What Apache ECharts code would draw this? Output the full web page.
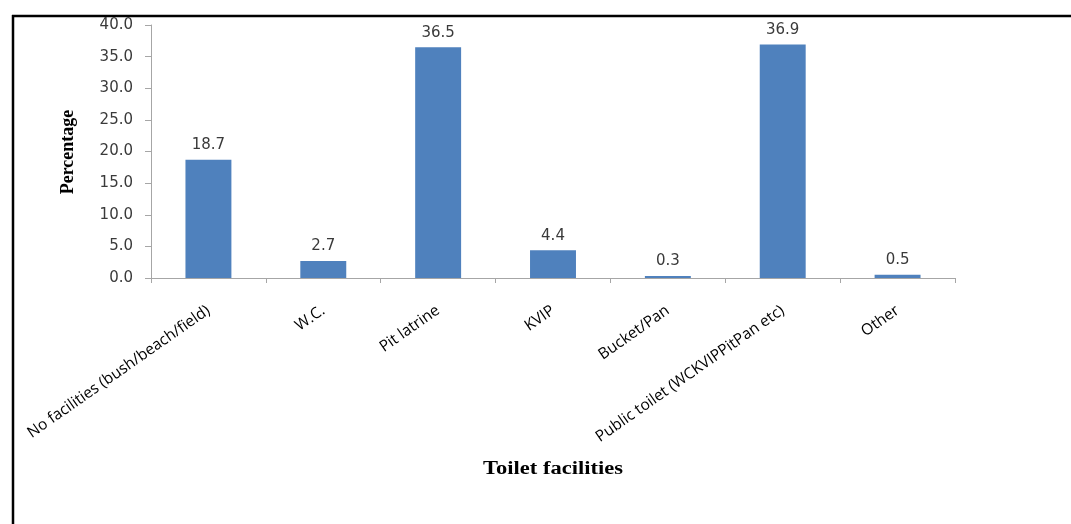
<!DOCTYPE html>
<html>
<head>
<meta charset="utf-8">
<script src="https://cdn.jsdelivr.net/npm/echarts@6/dist/echarts.min.js"></script>
<style>
  html, body { margin: 0; padding: 0; background: #fff; }
  #chart { width: 1071px; height: 524px; }
</style>
</head>
<body>
<div id="chart"></div>
<script>
// Toilet facilities used by households (percent)
const categories = [
  'No facilities (bush/beach/field)',
  'W.C.',
  'Pit latrine',
  'KVIP',
  'Bucket/Pan',
  'Public toilet (WCKVIPPitPan etc)',
  'Other'
];
const percentages = [18.7, 2.7, 36.5, 4.4, 0.3, 36.9, 0.5];
const yTicks = { min: 0, max: 40, interval: 5 };

const numFont = '"DejaVu Sans", Verdana, sans-serif';
const catFont = '"Open Sans", "Liberation Sans", sans-serif';
const serif = '"Liberation Serif", "Times New Roman", serif';

const chart = echarts.init(document.getElementById('chart'), null, { renderer: 'canvas' });
chart.setOption({
  animation: false,
  backgroundColor: '#ffffff',
  grid: { left: 151, right: 116, top: 25, bottom: 246, containLabel: false },
  xAxis: {
    type: 'category',
    data: categories,
    axisLine: { lineStyle: { color: '#a6a6a6', width: 1 } },
    axisTick: { show: true, length: 5, alignWithLabel: false, lineStyle: { color: '#a6a6a6' } },
    axisLabel: {
      interval: 0,
      rotate: 35,
      margin: 31,
      color: '#000',
      fontFamily: catFont,
      fontSize: 15.5
    }
  },
  yAxis: {
    type: 'value',
    min: yTicks.min,
    max: yTicks.max,
    interval: yTicks.interval,
    axisLine: { show: true, lineStyle: { color: '#a6a6a6', width: 1 } },
    axisTick: { show: true, length: 6, lineStyle: { color: '#a6a6a6' } },
    splitLine: { show: false },
    axisLabel: {
      margin: 18,
      color: '#3a3a3a',
      fontFamily: numFont,
      fontSize: 15,
      formatter: v => v.toFixed(1)
    }
  },
  series: [{
    type: 'bar',
    data: percentages,
    barCategoryGap: '60%',
    itemStyle: { color: '#4f81bd' },
    label: {
      show: true,
      position: 'top',
      distance: 7,
      color: '#3a3a3a',
      fontFamily: numFont,
      fontSize: 15,
      formatter: p => p.value.toFixed(1)
    }
  }],
  graphic: [
    // frame lines on the top and left
    { type: 'line', shape: { x1: 12, y1: 16, x2: 1071, y2: 16 }, style: { stroke: '#000', lineWidth: 2.5 } },
    { type: 'line', shape: { x1: 13, y1: 15, x2: 13, y2: 524 }, style: { stroke: '#000', lineWidth: 2.5 } },
    // axis titles
    {
      type: 'text', x: 68, y: 152, rotation: Math.PI / 2,
      style: { text: 'Percentage', font: 'bold 18px ' + serif, fill: '#000', align: 'center', verticalAlign: 'middle' }
    },
    {
      type: 'text', x: 553, y: 469, scaleX: 1.25,
      style: { text: 'Toilet facilities', font: 'bold 18px ' + serif, fill: '#000', align: 'center', verticalAlign: 'middle' }
    },
    // lower edge of the axis title is cut off
    { type: 'rect', shape: { x: 400, y: 474, width: 300, height: 20 }, style: { fill: '#ffffff' }, z: 100 }
  ]
});
</script>
</body>
</html>
